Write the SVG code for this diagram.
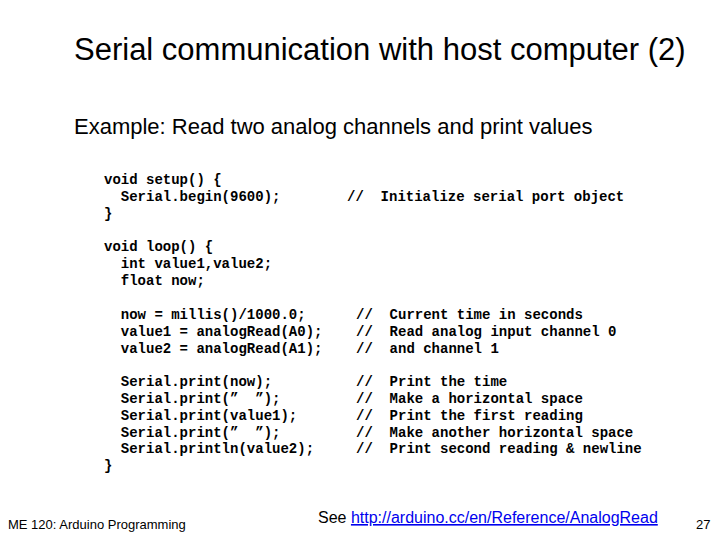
<svg xmlns="http://www.w3.org/2000/svg" width="720" height="540" viewBox="0 0 720 540">
<style>
.c{font-family:"Liberation Mono",monospace;font-size:14px;font-weight:bold;fill:#000;white-space:pre}
.s{font-family:"Liberation Sans",Arial,sans-serif;fill:#000}
</style>
<rect width="720" height="540" fill="#fff"/>
<text class="s" x="74" y="60" font-size="31">Serial communication with host computer (2)</text>
<text class="s" x="74" y="134" font-size="22">Example: Read two analog channels and print values</text>
<g id="code">
<text class="c" x="104" y="184">void setup() {</text>
<text class="c" x="104" y="201">  Serial.begin(9600);</text>
<text class="c" x="104" y="218">}</text>
<text class="c" x="104" y="251">void loop() {</text>
<text class="c" x="104" y="268">  int value1,value2;</text>
<text class="c" x="104" y="285">  float now;</text>
<text class="c" x="104" y="319">  now = millis()/1000.0;</text>
<text class="c" x="104" y="336">  value1 = analogRead(A0);</text>
<text class="c" x="104" y="353">  value2 = analogRead(A1);</text>
<text class="c" x="104" y="386">  Serial.print(now);</text>
<text class="c" x="104" y="403">  Serial.print(”  ”);</text>
<text class="c" x="104" y="420">  Serial.print(value1);</text>
<text class="c" x="104" y="437">  Serial.print(”  ”);</text>
<text class="c" x="104" y="453">  Serial.println(value2);</text>
<text class="c" x="104" y="470">}</text>
</g>
<g id="comments">
<text class="c" x="347" y="201">//  Initialize serial port object</text>
<text class="c" x="356" y="319">//  Current time in seconds</text>
<text class="c" x="356" y="336">//  Read analog input channel 0</text>
<text class="c" x="356" y="353">//  and channel 1</text>
<text class="c" x="356" y="386">//  Print the time</text>
<text class="c" x="356" y="403">//  Make a horizontal space</text>
<text class="c" x="356" y="420">//  Print the first reading</text>
<text class="c" x="356" y="437">//  Make another horizontal space</text>
<text class="c" x="356" y="453">//  Print second reading &amp; newline</text>
</g>
<text class="s" x="8" y="529" font-size="13" fill="#333">ME 120: Arduino Programming</text>
<text class="s" x="318" y="523" font-size="16">See <tspan fill="#0000ee" text-decoration="underline">http://arduino.cc/en/Reference/AnalogRead</tspan></text>
<text class="s" x="696" y="529" font-size="13" fill="#555">27</text>
</svg>
